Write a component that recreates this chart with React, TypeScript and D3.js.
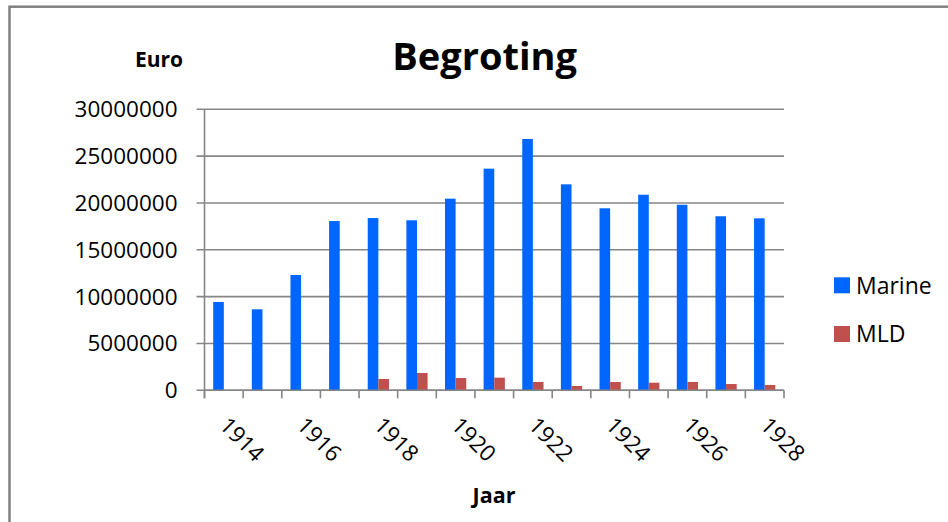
import React from "react";
import * as d3 from "d3";

const years = ["1914","1915","1916","1917","1918","1919","1920","1921","1922","1923","1924","1925","1926","1927","1928"];
const marine = [9430000, 8650000, 12310000, 18070000, 18390000, 18150000, 20460000, 23660000, 26830000, 21990000, 19430000, 20880000, 19810000, 18580000, 18360000];
const mld = [0, 0, 0, 0, 1210000, 1850000, 1310000, 1350000, 890000, 460000, 890000, 810000, 890000, 670000, 570000];
const yTicks = [0, 5000000, 10000000, 15000000, 20000000, 25000000, 30000000];
const xLabels = ["1914","1916","1918","1920","1922","1924","1926","1928"];
const seriesNames = ["Marine", "MLD"];
const seriesColors = ["#0066FF", "#C0504D"];

const W = 948, H = 522;
const FONT = "'Open Sans', sans-serif";
const GRID = "#868686";

export default function App() {
  const x0 = 204.5, x1 = 784, yTop = 109.3, yBot = 390.3;
  const x = d3.scaleBand<string>().domain(years).range([x0, x1]).paddingInner(0.45).paddingOuter(0.225);
  const step = (x1 - x0) / years.length;
  const xs = d3.scaleBand<string>().domain(seriesNames).range([0, x.bandwidth()]);
  const y = d3.scaleLinear().domain([0, 30000000]).range([yBot, yTop]);
  const series = [marine, mld];
  const boundaries = d3.range(years.length + 1).map(i => x0 + i * step);

  return (
    <div style={{ position: "fixed", left: 0, top: 0, width: W, height: H, background: "#fff" }}>
      <svg width={W} height={H} style={{ display: "block" }}>
        <rect x={0} y={0} width={W} height={H} fill="#fff" />
        {/* chart border */}
        <rect x={9.5} y={6.7} width={W + 20} height={H + 20} fill="none" stroke="#808080" strokeWidth={2.5} />
        {/* title */}
        <text x={484.7} y={70} textAnchor="middle" fontFamily={FONT} fontWeight="bold" fontSize={38} fill="#000">Begroting</text>
        <text x={135} y={66.7} fontFamily={FONT} fontWeight="bold" fontSize={21} fill="#000">Euro</text>
        {/* gridlines + y ticks */}
        {yTicks.map(t => (
          <g key={t}>
            <line x1={x0 - 8} x2={x1} y1={y(t)} y2={y(t)} stroke={GRID} strokeWidth={1.6} />
            <text x={177.5} y={y(t)} dy="0.357em" textAnchor="end" fontFamily={FONT} fontSize={22.5} fill="#000">{t}</text>
          </g>
        ))}
        {/* y axis */}
        <line x1={x0} x2={x0} y1={yTop} y2={yBot + 8} stroke={GRID} strokeWidth={1.6} />
        {/* category ticks */}
        {boundaries.map((b, i) => (
          <line key={i} x1={b} x2={b} y1={yBot} y2={yBot + 8} stroke={GRID} strokeWidth={1.6} />
        ))}
        {/* bars */}
        {years.map((yr, i) => (
          <g key={yr}>
            {series.map((s, k) => s[i] > 0 ? (
              <rect key={k} x={(x(yr) as number) + (xs(seriesNames[k]) as number)} y={y(s[i])}
                width={xs.bandwidth()} height={yBot - y(s[i])} fill={seriesColors[k]} />
            ) : null)}
          </g>
        ))}
        {/* x axis line on top */}
        <line x1={x0} x2={x1} y1={yBot} y2={yBot} stroke={GRID} strokeWidth={1.6} />
        {/* x labels */}
        {xLabels.map(l => {
          const cx = (x(l) as number) + x.bandwidth() / 2;
          return (
            <text key={l} transform={`translate(${cx},421) rotate(45)`} dy="0.357em" textAnchor="start"
              fontFamily={FONT} fontSize={22.5} fill="#000">{l}</text>
          );
        })}
        <text x={494} y={502.7} textAnchor="middle" fontFamily={FONT} fontWeight="bold" fontSize={21.5} fill="#000">Jaar</text>
        {/* legend */}
        {seriesNames.map((n, k) => (
          <g key={n} transform={`translate(834,${277.3 + k * 48.7})`}>
            <rect x={0} y={0} width={16} height={16} fill={seriesColors[k]} />
            <text x={22} y={8} dy="0.357em" fontFamily={FONT} fontSize={23} fill="#000">{n}</text>
          </g>
        ))}
      </svg>
    </div>
  );
}
